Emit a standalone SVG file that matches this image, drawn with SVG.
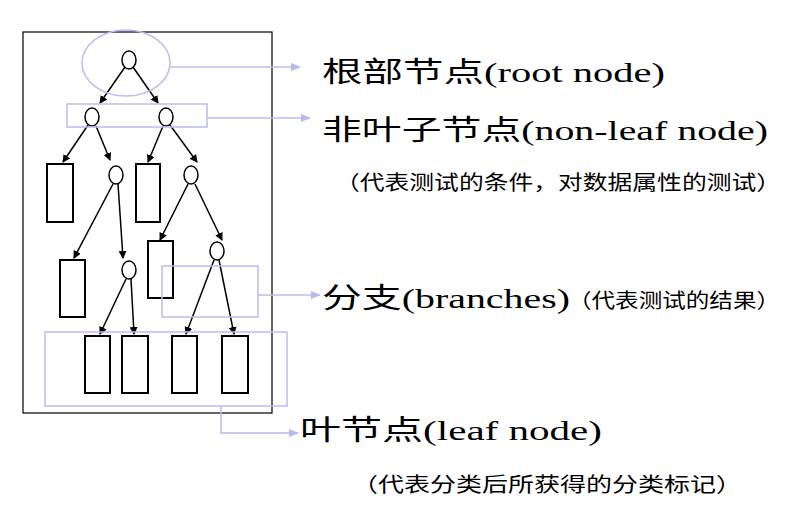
<svg xmlns="http://www.w3.org/2000/svg" width="796" height="505" viewBox="0 0 796 505">
<defs>
<marker id="ab" markerWidth="8" markerHeight="8" refX="7" refY="4" orient="auto" markerUnits="userSpaceOnUse"><path d="M0,0 L8,4 L0,8 Z" fill="#000"/></marker>
<marker id="al" markerWidth="10" markerHeight="8" refX="9" refY="4" orient="auto" markerUnits="userSpaceOnUse"><path d="M0,0 L10,4 L0,8 Z" fill="#b8b8f0"/></marker>
</defs>
<style>
.n{fill:#fff;stroke:#000;stroke-width:1.5}
.l{fill:#fff;stroke:#000;stroke-width:2}
.h{fill:none;stroke:#bcbcf0;stroke-width:1.5}
.e{stroke:#000;stroke-width:1.5;marker-end:url(#ab)}
.t{font-family:"Liberation Serif","Noto Sans CJK SC",serif;fill:#000}
.b{font-size:28px}
.s{font-size:20px}
</style>
<rect x="23" y="32" width="249" height="381" fill="#fff" stroke="#000" stroke-width="1.2"/>
<g id="edges">
<line class="e" x1="125" y1="67" x2="100" y2="103"/>
<line class="e" x1="133" y1="67" x2="158" y2="103"/>
<line class="e" x1="88" y1="125" x2="63" y2="162"/>
<line class="e" x1="96" y1="126" x2="110" y2="160"/>
<line class="e" x1="163" y1="126" x2="148" y2="162"/>
<line class="e" x1="170" y1="125" x2="197" y2="162"/>
<line class="e" x1="113" y1="184" x2="74" y2="258"/>
<line class="e" x1="118" y1="184" x2="123" y2="258"/>
<line class="e" x1="188" y1="184" x2="160" y2="240"/>
<line class="e" x1="195" y1="184" x2="222" y2="240"/>
<line class="e" x1="126" y1="279" x2="100" y2="334"/>
<line class="e" x1="131" y1="279" x2="134" y2="334"/>
<line class="e" x1="214" y1="260" x2="186" y2="334"/>
<line class="e" x1="219" y1="260" x2="234" y2="334"/>
</g>
<g id="nodes">
<ellipse class="n" cx="129" cy="60" rx="7" ry="9"/>
<ellipse class="n" cx="92" cy="117" rx="7" ry="9"/>
<ellipse class="n" cx="166" cy="117" rx="7" ry="9"/>
<ellipse class="n" cx="116" cy="175" rx="7" ry="9"/>
<ellipse class="n" cx="191" cy="175" rx="7" ry="9"/>
<ellipse class="n" cx="129" cy="270" rx="7" ry="9"/>
<ellipse class="n" cx="217" cy="251" rx="7" ry="9"/>
<rect class="l" x="47" y="164" width="26" height="58"/>
<rect class="l" x="136" y="164" width="24" height="58"/>
<rect class="l" x="60" y="260" width="25" height="57"/>
<rect class="l" x="148" y="241" width="25" height="57"/>
<rect class="l" x="85" y="336" width="25" height="57"/>
<rect class="l" x="122" y="336" width="26" height="57"/>
<rect class="l" x="172" y="336" width="25" height="57"/>
<rect class="l" x="222" y="336" width="26" height="57"/>
</g>
<g id="highlights">
<ellipse class="h" cx="126" cy="63" rx="44" ry="33"/>
<rect class="h" x="67" y="104" width="140" height="23"/>
<rect class="h" x="162" y="266" width="96" height="51"/>
<rect class="h" x="45" y="332" width="242" height="74"/>
</g>
<g id="connectors">
<line class="h" x1="170" y1="67" x2="300" y2="67" marker-end="url(#al)"/>
<line class="h" x1="207" y1="118" x2="310" y2="118" marker-end="url(#al)"/>
<line class="h" x1="258" y1="295" x2="320" y2="295" marker-end="url(#al)"/>
<polyline class="h" points="221,406 221,433 298,433" marker-end="url(#al)"/>
</g>
<g id="labels">
<text class="t b" x="322" y="82" textLength="343" lengthAdjust="spacingAndGlyphs">根部节点(root node)</text>
<text class="t b" x="322" y="140" textLength="446" lengthAdjust="spacingAndGlyphs">非叶子节点(non-leaf node)</text>
<text class="t s" x="335" y="190" textLength="446" lengthAdjust="spacingAndGlyphs">（代表测试的条件，对数据属性的测试）</text>
<text class="t b" x="322" y="308" textLength="248" lengthAdjust="spacingAndGlyphs">分支(branches)</text>
<text class="t s" x="568" y="308" textLength="212" lengthAdjust="spacingAndGlyphs">（代表测试的结果）</text>
<text class="t b" x="300" y="440" textLength="302" lengthAdjust="spacingAndGlyphs">叶节点(leaf node)</text>
<text class="t s" x="352" y="492" textLength="390" lengthAdjust="spacingAndGlyphs">（代表分类后所获得的分类标记）</text>
</g>
</svg>
